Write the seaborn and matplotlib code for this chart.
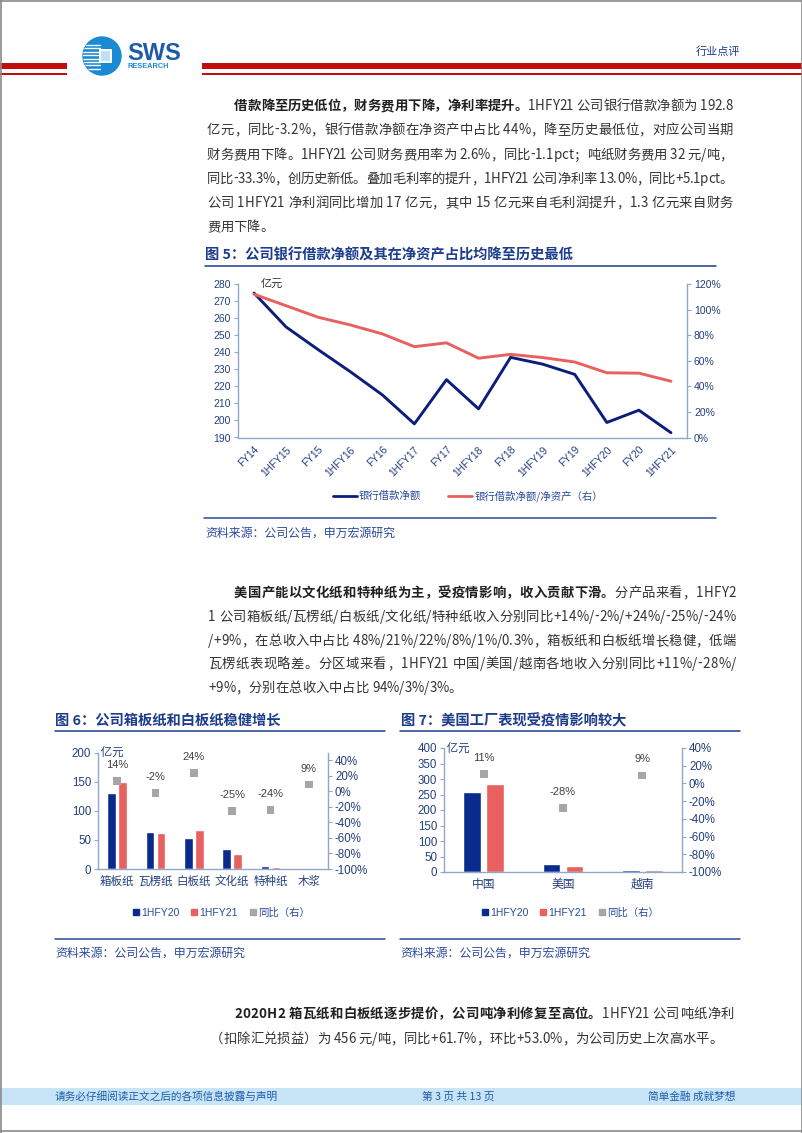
import numpy as np
import pandas as pd
import seaborn as sns
import matplotlib.pyplot as plt
from matplotlib.lines import Line2D
from matplotlib.patches import Rectangle, Circle

# ---- data ----
periods = ["FY14", "1HFY15", "FY15", "1HFY16", "FY16", "1HFY17", "FY17",
           "1HFY18", "FY18", "1HFY19", "FY19", "1HFY20", "FY20", "1HFY21"]
net_loans = [274.7, 254.8, 241.5, 228.6, 215.0, 198.0, 223.9,
             206.8, 237.0, 233.0, 227.0, 198.8, 206.0, 192.8]
loans_to_assets = [112, 103, 94, 88, 81, 71, 74, 62, 65, 62.5, 59, 50.6, 50.3, 44]

products = ["箱板纸", "瓦楞纸", "白板纸", "文化纸", "特种纸", "木浆"]
prod_1hfy20 = [131, 64, 54, 34.4, 5.0, 0.5]
prod_1hfy21 = [150, 62.5, 67, 25.8, 3.8, 0.55]
prod_yoy = [14, -2, 24, -25, -24, 9]

regions = ["中国", "美国", "越南"]
reg_1hfy20 = [256.7, 26, 6]
reg_1hfy21 = [284.8, 18.7, 6.5]
reg_yoy = [11, -28, 9]

W, H = 802, 1133
NAVY = "#0b1f7a"
BLUE = "#0a2b8e"
RED = "#e8605f"
GREY = "#a6a6a6"
TITLE = "#1c3c8c"
TICK = "#24407f"
SPINE = "#8fa8c8"
SRC = "#2a4a9a"
BODY = ["Noto Sans CJK SC", "DejaVu Sans"]

sns.set_style("white")
plt.rcParams["font.family"] = ["Liberation Sans", "Noto Sans CJK SC", "DejaVu Sans"]

fig = plt.figure(figsize=(W / 100, H / 100), dpi=100)
bg = fig.add_axes([0, 0, 1, 1])
bg.set_xlim(0, W)
bg.set_ylim(H, 0)
bg.axis("off")


def hline(x0, x1, y, color, lw=1.1):
    bg.add_line(Line2D([x0, x1], [y, y], color=color, lw=lw))


def box(x0, y0, x1, y1, color):
    bg.add_patch(Rectangle((x0, y0), x1 - x0, y1 - y0, color=color, lw=0))


# page frame
for xs, ys in [([0, W], [0.5, 0.5]), ([0, W], [H - 2, H - 2]), ([0.5, 0.5], [0, H]), ([W - 0.5, W - 0.5], [0, H])]:
    bg.add_line(Line2D(xs, ys, color="#8a8a8a", lw=1.2))

# header
HRED = "#c00d0d"
box(0, 63, 67, 69, HRED)
box(0, 73, 67, 75, HRED)
box(202, 63, W, 69, HRED)
box(202, 73, W, 75, HRED)
logo = Circle((102, 56), 19, color="#1a8ad4")
bg.add_patch(logo)
for yy in np.arange(45, 69, 3.4):
    ln = Line2D([82, 100], [yy, yy], color="white", lw=1.0)
    bg.add_line(ln)
    ln.set_clip_path(logo)
box(99, 49, 112, 63, "white")
box(101, 51, 110, 61, "#bfe0f6")
bg.text(127, 53, "SWS", fontsize=17, weight="bold", color="#1d5aa8", va="center")
bg.text(128, 66.5, "RESEARCH", fontsize=5.3, weight="bold", color="#1a8ad4", va="center")
bg.text(696, 52, "行业点评", fontsize=8, color=TITLE, va="center", family=BODY)

# ---- body text, justified character by character ----
rend = fig.canvas.get_renderer()
_cache = {}


def cw(c, bold, size):
    key = (c, bold, size)
    if key not in _cache:
        def w(s):
            t = bg.text(0, 0, s, fontsize=size, weight="bold" if bold else "normal", family=BODY)
            e = t.get_window_extent(rend).width
            t.remove()
            return e
        _cache[key] = w("|" + c + "|") - w("||")
    return _cache[key]


def para_line(x0, y, segs, x1=None, size=9.6):
    chars = [(c, b) for s, b in segs for c in s]
    ws = [cw(c, b, size) for c, b in chars]
    gap = 0
    if x1 is not None:
        gap = (x1 - x0 - sum(ws)) / (len(chars) - 1)
    x = x0
    for (c, b), w in zip(chars, ws):
        if c != " ":
            bg.text(x, y + 5, c, fontsize=size, weight="bold" if b else "normal",
                    color="#202020" if b else "#333333", family=BODY, va="baseline")
        x += w + gap


R1 = 733
para_line(234, 105, [("借款降至历史低位，财务费用下降，净利率提升。", True), ("1HFY21 公司银行借款净额为 192.8", False)], R1)
para_line(207, 129, [("亿元，同比-3.2%，银行借款净额在净资产中占比 44%，降至历史最低位，对应公司当期", False)], R1)
para_line(207, 154, [("财务费用下降。1HFY21 公司财务费用率为 2.6%，同比-1.1pct；吨纸财务费用 32 元/吨，", False)], R1)
para_line(207, 178, [("同比-33.3%，创历史新低。叠加毛利率的提升，1HFY21 公司净利率 13.0%，同比+5.1pct。", False)], R1)
para_line(207, 202, [("公司 1HFY21 净利润同比增加 17 亿元，其中 15 亿元来自毛利润提升，1.3 亿元来自财务", False)], R1)
para_line(207, 226, [("费用下降。", False)])

R2 = 736
para_line(234, 592, [("美国产能以文化纸和特种纸为主，受疫情影响，收入贡献下滑。", True), ("分产品来看，1HFY2", False)], R2)
para_line(208, 616, [("1 公司箱板纸/瓦楞纸/白板纸/文化纸/特种纸收入分别同比+14%/-2%/+24%/-25%/-24%", False)], R2)
para_line(208, 640, [("/+9%，在总收入中占比 48%/21%/22%/8%/1%/0.3%，箱板纸和白板纸增长稳健，低端", False)], R2)
para_line(208, 663, [("瓦楞纸表现略差。分区域来看，1HFY21 中国/美国/越南各地收入分别同比+11%/-28%/", False)], R2)
para_line(208, 687, [("+9%，分别在总收入中占比 94%/3%/3%。", False)])

para_line(234, 1013, [("2020H2 箱瓦纸和白板纸逐步提价，公司吨净利修复至高位。", True), ("1HFY21 公司吨纸净利", False)], 734)
para_line(210, 1038, [("（扣除汇兑损益）为 456 元/吨，同比+61.7%，环比+53.0%，为公司历史上次高水平。", False)])

# ---- titles and sources ----
bg.text(205, 255, "图 5：公司银行借款净额及其在净资产占比均降至历史最低", fontsize=10.3,
        weight="bold", color=TITLE, va="center", family=BODY)
hline(205, 716, 265.5, TITLE)
hline(204, 716, 518, SRC)
bg.text(205, 533, "资料来源：公司公告，申万宏源研究", fontsize=8.6, color=SRC, va="center", family=BODY)

bg.text(55, 721, "图 6：公司箱板纸和白板纸稳健增长", fontsize=10.3, weight="bold", color=TITLE, va="center", family=BODY)
hline(55, 385, 730.5, TITLE)
bg.text(401, 721, "图 7：美国工厂表现受疫情影响较大", fontsize=10.3, weight="bold", color=TITLE, va="center", family=BODY)
hline(400, 740, 730.5, TITLE)
hline(55, 385, 939, SRC)
hline(400, 740, 939, SRC)
bg.text(55, 953, "资料来源：公司公告，申万宏源研究", fontsize=8.6, color=SRC, va="center", family=BODY)
bg.text(400, 953, "资料来源：公司公告，申万宏源研究", fontsize=8.6, color=SRC, va="center", family=BODY)

# footer
box(0, 1088, W, 1105, "#c7e5f7")
FOOT = "#1f5bab"
bg.text(55, 1097, "请务必仔细阅读正文之后的各项信息披露与声明", fontsize=7.7, color=FOOT, va="center", family=BODY)
bg.text(422, 1097, "第 3 页 共 13 页", fontsize=7.7, color=FOOT, va="center", family=BODY)
bg.text(648, 1097, "简单金融 成就梦想", fontsize=7.7, color=FOOT, va="center", family=BODY)


def style_axes(ax, twin, size):
    for a in (ax, twin):
        a.spines["top"].set_visible(False)
        for s in ("left", "right", "bottom"):
            a.spines[s].set_color(SPINE)
            a.spines[s].set_linewidth(1.0)
        a.tick_params(axis="y", colors=SPINE, labelcolor=TICK, labelsize=size, length=3, width=0.8, pad=2)
        a.set_xlabel("")
        a.set_ylabel("")
    ax.spines["right"].set_visible(False)
    twin.spines["left"].set_visible(False)
    twin.spines["bottom"].set_visible(False)


def cat_ticks(ax, n):
    ax.set_xlim(-0.5, n - 0.5)
    ax.set_xticks(np.arange(n - 1) + 0.5, minor=True)
    ax.tick_params(axis="x", which="major", length=0)
    ax.tick_params(axis="x", which="minor", length=3, color=SPINE, width=0.8)


def pct(ax, ticks):
    ax.set_yticks(ticks)
    ax.set_yticklabels([f"{t}%" for t in ticks])


# ---- figure 5 ----
ax5 = fig.add_axes([238 / W, 1 - 437.5 / H, 449 / W, 153.5 / H])
xs = np.arange(len(periods))
sns.lineplot(x=xs, y=net_loans, color=NAVY, lw=2.1, ax=ax5, legend=False)
ax5.set_ylim(190, 280)
ax5.set_yticks(range(190, 281, 10))
ax5b = ax5.twinx()
sns.lineplot(x=xs, y=loans_to_assets, color=RED, lw=2.1, ax=ax5b, legend=False)
ax5b.set_ylim(0, 120)
pct(ax5b, list(range(0, 121, 20)))
style_axes(ax5, ax5b, 7.5)
cat_ticks(ax5, len(periods))
ax5.set_xticks(xs)
ax5.set_xticklabels(periods, rotation=45, ha="right", rotation_mode="anchor", fontsize=7.4, color=TICK)
ax5.tick_params(axis="x", which="major", pad=5)
ax5.text(0.05, 1.0, "亿元", transform=ax5.transAxes, fontsize=8, color="#333333", va="center", family=BODY)
fig.legend([Line2D([], [], color=NAVY, lw=2), Line2D([], [], color=RED, lw=2)],
           ["银行借款净额", "银行借款净额/净资产（右）"], loc="center",
           bbox_to_anchor=(468 / W, 1 - 496 / H), ncol=2, frameon=False,
           handlelength=2.3, handletextpad=0.2, columnspacing=2.6, labelcolor=SRC,
           prop={"family": BODY, "size": 7.5})


def bar_chart(rect, cats, v20, v21, yoy, ymax, ystep, xsize):
    ax = fig.add_axes(rect)
    df = pd.DataFrame({"cat": cats * 2,
                       "period": ["1HFY20"] * len(cats) + ["1HFY21"] * len(cats),
                       "value": v20 + v21})
    sns.barplot(df, x="cat", y="value", hue="period", palette=[BLUE, RED], saturation=1,
                width=0.58, gap=0.22, legend=False, ax=ax)
    ax.set_ylim(0, ymax)
    ax.set_yticks(range(0, ymax + 1, ystep))
    tw = ax.twinx()
    pos = np.arange(len(cats))
    sns.scatterplot(x=pos, y=yoy, marker="s", s=32, color=GREY, edgecolor="none", ax=tw, legend=False)
    for p, v in zip(pos, yoy):
        tw.annotate(f"{v}%", (p, v), xytext=(0, 11.5), textcoords="offset points",
                    ha="center", va="center", fontsize=8, color="#404040")
    style_axes(ax, tw, 8.3)
    cat_ticks(ax, len(cats))
    ax.set_xticks(pos)
    ax.set_xticklabels(cats, fontsize=xsize, color=TICK, family=BODY)
    ax.tick_params(axis="x", which="major", pad=4)
    ax.text(0.0, 1.0, " 亿元", transform=ax.transAxes, fontsize=8.3, color=TICK, va="center", family=BODY)
    return ax, tw


ax6, ax6b = bar_chart([98 / W, 1 - 869 / H, 230 / W, 116.3 / H], products, prod_1hfy20, prod_1hfy21,
                      prod_yoy, 200, 50, 8.3)
ax6b.set_ylim(-100, 50)
pct(ax6b, list(range(-100, 41, 20)))

ax7, ax7b = bar_chart([444 / W, 1 - 872 / H, 238 / W, 124 / H], regions, reg_1hfy20, reg_1hfy21,
                      reg_yoy, 400, 50, 8.5)
ax7b.set_ylim(-100, 40)
pct(ax7b, list(range(-100, 41, 20)))

handles = [Line2D([], [], marker="s", ls="none", color=c, markersize=4) for c in (BLUE, RED, GREY)]
for cx in (221, 570):
    fig.legend(handles, ["1HFY20", "1HFY21", "同比（右）"], loc="center",
               bbox_to_anchor=(cx / W, 1 - 913 / H), ncol=3, frameon=False,
               handlelength=0.8, handletextpad=0.1, columnspacing=1.0, labelcolor=SRC,
               prop={"family": ["Liberation Sans", "Noto Sans CJK SC"], "size": 7.5})

fig.savefig("out.png", dpi=100)
